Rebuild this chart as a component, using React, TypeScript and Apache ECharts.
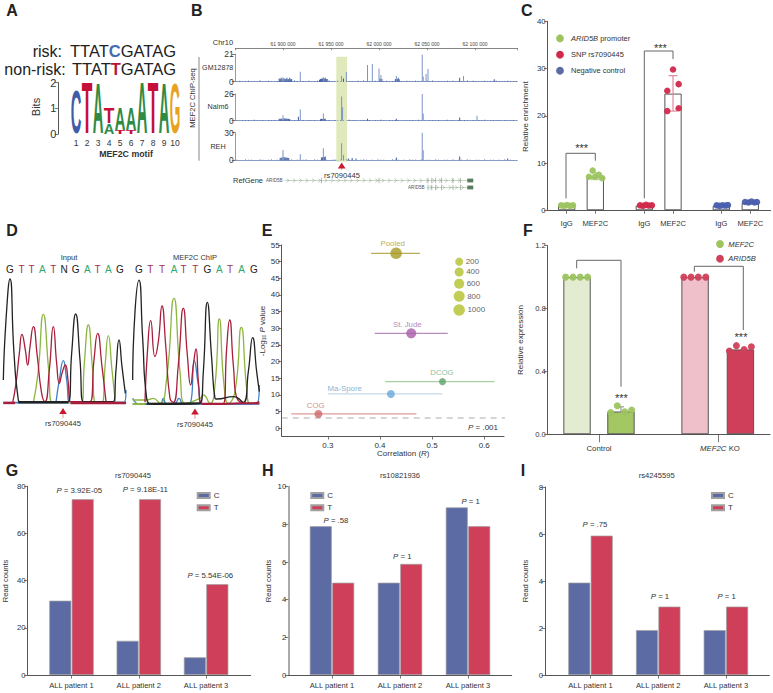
import React, { useEffect, useRef } from "react";
import * as echarts from "echarts";

const FONT = '"Liberation Sans", Arial, sans-serif';
const BLUE = "#5c6ba4";
const RED = "#cf3f5a";
const GREEN = "#9dc45f";
const AXIS = "#555";
const TXT = "#333";

// ---- Panel A
const logoPositions = [1, 2, 3, 4, 5, 6, 7, 8, 9, 10];
const logoRows: [number, string, number, number][] = [
  [1, "C", 0.02, 1.75], [2, "T", 0, 2], [3, "A", 0, 1.95], [4, "A", 0, 0.42], [4, "T", 0.42, 1.03],
  [5, "T", 0, 0.16], [5, "A", 0.16, 1.03], [6, "T", 0, 0.16], [6, "A", 0.16, 1.03],
  [7, "A", 0, 2], [8, "T", 0, 2], [9, "A", 0, 1.95], [10, "G", 0, 1.95],
];
const logoColors: Record<string, string> = { C: "#3f5ca8", T: "#c5103a", A: "#2f8a45", G: "#e8a21e" };
const logoAdvance: Record<string, number> = { C: 0.722, T: 0.611, A: 0.722, G: 0.778 };

// ---- Panel B
const genomeTicks = [61900, 61950, 62000, 62050, 62100];
const peaksGM = [
  [61896, 2.5], [61897, 2], [61898, 3], [61899, 2.2], [61900, 3.4], [61901, 2.4], [61902, 2.2], [61903, 2], [61904, 3], [61905, 1.8], [61906, 2], [61907, 3], [61908, 1.8], [61909, 2], [61918, 7.6],
  [61938, 1.5], [61939, 2], [61940, 2.2], [61941, 2.6], [61942, 3.4], [61943, 2.4], [61944, 3], [61945, 2], [61946, 2], [61961, 4.3], [61963, 2.5], [61966, 7.3],
  [61988, 12.7], [61993, 13.4], [62000, 10], [62001, 2.5], [62002, 5], [62003, 2], [62017, 2], [62018, 4.3], [62019, 2], [62020, 3], [62021, 1.8], [62045, 20.5], [62046, 4],
  [62049, 5.8], [62051, 9.6], [62084, 3], [62088, 4.3], [62120, 1.8],
];
const peaksNalm = [
  [61896, 2], [61897, 1.6], [61898, 2.2], [61899, 1.8], [61900, 5.4], [61901, 2], [61902, 2.4], [61903, 1.8], [61904, 2.2], [61905, 1.6], [61906, 2], [61907, 1.6], [61916, 3.8], [61918, 11],
  [61939, 1.5], [61940, 2], [61941, 1.6], [61942, 7], [61943, 1.8], [61944, 2], [61961, 23.5], [61962, 13], [61988, 2], [62018, 2], [62045, 26], [62046, 7],
  [62084, 3.2], [62102, 4.7],
];
const peaksReh = [
  [61897, 2.4], [61898, 2.8], [61899, 3.2], [61900, 11.2], [61901, 3.4], [61902, 3.2], [61903, 2.8], [61904, 3], [61905, 2.4], [61906, 2.4], [61918, 6.5],
  [61940, 3], [61941, 3.4], [61942, 13], [61943, 3.6], [61944, 4], [61961, 18.4], [61963, 5.8], [61968, 2], [61972, 2.4], [61976, 2],
  [62018, 3], [62045, 30], [62046, 11], [62084, 4], [62134, 2],
];
const noiseGM = [.4,.7,.3,.5,.8,.3,.6,.4,.9,.3,.5,.7,.4,.3,.6,.8,.4,.5,.3,.7,.9,.5,.3,.6,.4,.8,.3,.5,.7,.4,.6,.3,.9,.5,.4,.7,.3,.6,.8,.4,.5,.3,.7,.4,.9,.6,.3,.5,.8,.4,.3,.6,.7,.4,.5,.9,.3,.6,.4,.7,.5,.3,.8,.6,.4,.3,.7,.5,.9,.4,.6,.3,.5,.8,.4,.7,.3,.6,.5,.4,.9,.3,.7,.5,.4,.6,.8,.3,.5,.4,.7,.6,.3,.5,.8,.4,.3,.5];
const noiseNalm = [.5,.3,.8,.4,.6,.3,.9,.5,.4,.7,.3,.6,.5,.8,.3,.4,.7,.5,.9,.3,.6,.4,.5,.8,.3,.7,.4,.6,.3,.9,.5,.4,.8,.3,.6,.5,.7,.4,.3,.9,.5,.6,.3,.4,.8,.5,.7,.3,.6,.4,.9,.5,.3,.7,.4,.6,.8,.3,.5,.4,.7,.6,.3,.9,.4,.5,.3,.8,.6,.4,.7,.3,.5,.9,.4,.6,.3,.7,.5,.8,.4,.3,.6,.5,.7,.4,.9,.3,.5,.6,.4,.8,.3,.7,.5,.4,.6,.3];
const noiseReh = [.6,.4,.3,.9,.5,.7,.3,.4,.8,.6,.3,.5,.9,.4,.7,.3,.6,.5,.4,.8,.3,.7,.5,.6,.9,.4,.3,.8,.5,.4,.7,.6,.3,.5,.9,.4,.6,.3,.8,.5,.7,.4,.3,.6,.9,.5,.4,.7,.3,.8,.5,.6,.4,.3,.9,.7,.5,.4,.6,.3,.8,.5,.7,.4,.9,.3,.6,.5,.4,.8,.7,.3,.5,.6,.4,.9,.3,.7,.5,.4,.8,.6,.3,.5,.7,.4,.9,.3,.6,.5,.4,.7,.3,.8,.5,.6,.4,.3];
const exon1 = [61940, 62000, 62051, 62055, 62059, 62065, 62077, 62085];
const exon2 = [62051, 62055, 62059, 62065, 62077, 62085];

// ---- Panel C
const cTicks = [0.815, 1.185, 1.818, 2.189, 2.813, 3.187];
const cLabels = ["IgG", "MEF2C", "IgG", "MEF2C", "IgG", "MEF2C"];
const cBars = [1, 7, 1, 24.7, 1, 1.6];
const cGreenDots = [[.742,1.05],[.78,.95],[.819,1.1],[.858,.95],[.897,1.05],[1.151,8.4],[1.103,7.1],[1.181,7.1],[1.233,7.5],[1.275,6.8]];
const cRedDots = [[1.762,1.05],[1.801,.95],[1.84,1.15],[1.879,1],[1.917,1.05],[2.189,29.8],[2.262,26.7],[2.115,25.3],[2.262,21.6],[2.115,21]];
const cBlueDots = [[2.752,1.05],[2.79,.95],[2.828,1.05],[2.867,1],[2.899,1.1],[3.119,1.75],[3.164,1.65],[3.203,1.85],[3.242,1.65],[3.274,1.75]];
const cErrGreen = [[1.185, 6.5, 8]];
const cErrRed = [[2.189, 21, 28.5]];

// ---- Panel D
const dBasesInput = ["G","T","T","A","T","N","G","A","T","A","G"];
const dBaseXInput = [30,65,95,127,160,192,227,262,293,325,360];
const dBasesChip = ["G","T","T","A","T","T","G","A","T","A","G"];
const dBaseXChip = [417,451,486,522,551,586,622,658,690,725,762];
const baseColor: Record<string, string> = { G: "#222", T: "#a4304f", A: "#2fa76a", N: "#222" };
const inBlack = [[10,70],[18,250],[30,373],[42,150],[55,10],[62,3],[205,5],[215,150],[227,268],[240,130],[250,5],[340,5],[348,100],[357,190],[366,110],[376,30]];
const inRed = [[38,2],[48,60],[58,150],[66,207],[76,160],[83,115],[90,170],[100,230],[112,140],[125,30],[135,5],[148,100],[160,230],[170,120],[178,60],[186,90],[196,115],[204,70],[212,5],[270,5],[282,130],[293,210],[306,110],[318,5]];
const inGreen = [[100,2],[114,90],[130,267],[146,100],[156,3],[245,3],[253,120],[265,235],[277,110],[287,3],[306,3],[315,110],[325,203],[336,100],[346,3]];
const inBlue = [[168,3],[178,70],[190,128],[200,70],[210,3],[240,3],[372,3],[378,40]];
const inBaseBlack = [[55,3],[205,3]];
const inBaseRed = [[10,1],[45,1],[212,1],[378,1]];
const chBlack = [[398,75],[405,280],[417,375],[428,200],[440,20],[460,2],[600,5],[610,100],[622,308],[635,140],[645,20],[650,18],[700,25],[730,8],[745,100],[758,202],[770,100],[778,40]];
const chRed = [[435,8],[443,170],[452,253],[465,145],[475,190],[486,297],[497,180],[510,20],[520,8],[535,120],[550,290],[562,150],[572,60],[580,120],[588,168],[596,60],[605,5],[670,5],[680,170],[689,255],[700,120],[712,18],[760,5],[778,10]];
const chGreen = [[398,15],[440,15],[460,20],[480,5],[500,80],[522,320],[540,100],[555,5],[600,20],[610,30],[630,5],[645,60],[658,258],[672,60],[685,5],[705,40],[724,233],[740,50],[750,5],[778,5]];
const chBlue = [[398,20],[420,2],[480,2],[490,20],[500,2],[525,5],[537,20],[550,2],[570,5],[583,133],[595,60],[605,2],[770,5],[778,60]];
const chBaseBlack = [[440,4],[600,5]];
const chBaseGreen = [[398,3],[435,3]];
const chBaseRed = [[605,3],[665,3],[720,5],[778,5]];

// ---- Panel E
const studies = ["Pooled", "St. Jude", "DCOG", "Ma-Spore", "COG"];
const studyR = [0.431, 0.46, 0.52, 0.421, 0.282];
const studyLo = [0.383, 0.39, 0.41, 0.30, 0.23];
const studyHi = [0.477, 0.53, 0.62, 0.52, 0.47];
const studyP = [52.5, 28.5, 14, 10.3, 4.3];
const studySize = [11.5, 10, 7, 8, 8];
const studyDot = ["#a89a20", "#a85ea8", "#5aa36a", "#6aa8d8", "#d0666a"];
const studyLine = ["#b8ae55", "#b78bbb", "#a8d0a0", "#c5d9ea", "#e09a9a"];
const studyText = ["#b5b060", "#b98abb", "#8fc0a0", "#8ab4d4", "#d89090"];
const sizeLabels = [200, 400, 600, 800, 1000];
const sizeSymbol = [8, 9, 10, 11, 11.5];
const sizeKeyY = [50, 46.9, 43.4, 39.6, 35.5];

// ---- Panel F
const fTicks = [1, 2];
const fCategories = ["Control", "MEF2C KO"];
const fBarX = [0.815, 1.185, 1.809, 2.191];
const fBarValues = [1, 0.145, 1, 0.54];
const fBarFill = ["#e3ecd0", "#a3c763", "#efc0c9", "#cf3f5a"];
const fGreenDots = [[.719,1],[.781,1],[.842,1],[.904,1],[1.099,.138],[1.154,.182],[1.217,.144],[1.275,.155]];
const fRedDots = [[1.714,1],[1.775,1],[1.836,1],[1.899,1],[2.098,.53],[2.157,.564],[2.222,.54],[2.283,.557]];
const fErr = [[1.185, 0.14, 0.175]];

// ---- Panels G, H, I
const patients = ["ALL patient 1", "ALL patient 2", "ALL patient 3"];
const gC = [31.5, 14.5, 7.5];
const gT = [74.5, 74.5, 38.5];
const hC = [7.9, 4.9, 8.9];
const hT = [4.9, 5.9, 7.9];
const iC = [3.93, 1.91, 1.91];
const iT = [5.93, 2.91, 2.91];

function buildOption() {
  const grids: any[] = [], xAxes: any[] = [], yAxes: any[] = [], series: any[] = [], gfx: any[] = [], legends: any[] = [];

  const addGrid = (l: number, t: number, r: number, b: number, x: any, y: any) => {
    grids.push({ left: l, top: t, width: r - l, height: b - t });
    const i = grids.length - 1;
    xAxes.push({ gridIndex: i, ...x });
    yAxes.push({ gridIndex: i, ...y });
    return i;
  };
  const axisStyle = (color = AXIS, width = 1, fontSize = 7.8, margin = 2) => ({
    axisLine: { show: true, onZero: false, lineStyle: { color, width } },
    axisTick: { show: true, length: 3.5, lineStyle: { color: AXIS, width: 0.8 } },
    axisLabel: { fontSize, color: TXT, fontFamily: FONT, margin },
    splitLine: { show: false },
  });
  const hidden = (min: number, max: number) => ({ type: "value", show: false, min, max, splitLine: { show: false } });

  const text = (x: number, y: number, s: string, o: any = {}) => {
    const fontSize = o.fontSize ?? 8;
    const fill = o.fill ?? TXT;
    const base = { fontSize, fontFamily: FONT, fill };
    gfx.push({
      type: "text", x, y, z: 20, rotation: o.rotation ?? 0,
      style: {
        text: s, ...base, fontWeight: o.fontWeight ?? "normal", fontStyle: o.fontStyle ?? "normal",
        align: o.align ?? "center", verticalAlign: "middle",
        rich: o.rich ? Object.fromEntries(Object.entries(o.rich).map(([k, v]: any) => [k, { ...base, ...v }])) : undefined,
      },
    });
  };
  const italic = { i: { fontStyle: "italic" } };
  const line = (x1: number, y1: number, x2: number, y2: number, stroke = AXIS, lineWidth = 1) =>
    gfx.push({ type: "line", z: 15, shape: { x1, y1, x2, y2 }, style: { stroke, lineWidth } });
  const poly = (points: number[][], stroke = "#666", lineWidth = 1) =>
    gfx.push({ type: "polyline", z: 15, shape: { points }, style: { stroke, lineWidth, fill: "none" } });
  const arrow = (cx: number, top: number, bottom: number) => {
    line(cx, top + 5, cx, bottom, "#e69aa5", 1);
    gfx.push({ type: "polygon", z: 16, shape: { points: [[cx, top], [cx - 3.8, top + 6], [cx + 3.8, top + 6]] }, style: { fill: "#c8192e" } });
  };
  const circle = (cx: number, cy: number, r: number, fill: string) =>
    gfx.push({ type: "circle", z: 16, shape: { cx, cy, r }, style: { fill } });

  // panel letters
  ([["A", 12, 10], ["B", 196.7, 10], ["C", 526.7, 10], ["D", 12, 230], ["E", 267, 230], ["F", 528, 230], ["G", 12, 470], ["H", 267.7, 470], ["I", 523, 470]] as [string, number, number][])
    .forEach(([s, x, y]) => text(x, y, s, { fontSize: 16, fontWeight: "bold", fill: "#222" }));

  // ---------- A
  text(62, 51, "risk:", { fontSize: 16, align: "right", fill: "#222" });
  text(65.7, 69, "non-risk:", { fontSize: 16, align: "right", fill: "#222" });
  text(70, 51, "TTAT{c|C}GATAG", { fontSize: 16.5, align: "left", fill: "#222", rich: { c: { fill: "#3f6db0", fontWeight: "bold" } } });
  text(72, 69, "TTAT{t|T}GATAG", { fontSize: 16.5, align: "left", fill: "#222", rich: { t: { fill: "#b5143a", fontWeight: "bold" } } });
  text(35.5, 107, "Bits", { fontSize: 11, rotation: Math.PI / 2 });
  text(126, 154.3, "MEF2C motif", { fontSize: 8.8, fontWeight: "bold" });
  const gA = addGrid(70.5, 82.7, 180.5, 134,
    { type: "value", min: 0.5, max: 10.5, axisLine: { show: false }, axisTick: { show: false, customValues: logoPositions },
      axisLabel: { customValues: logoPositions, fontSize: 8.5, color: TXT, fontFamily: FONT, margin: 4 }, splitLine: { show: false } },
    { type: "value", min: 0, max: 2, interval: 1, offset: 12.2, ...axisStyle(AXIS, 1, 11, 2) });
  series.push({
    type: "custom", name: "logo", xAxisIndex: gA, yAxisIndex: gA, clip: false,
    data: logoRows.map((r) => [r[0], r[2], r[3]]), encode: { x: 0, y: [1, 2] },
    renderItem: (p: any, api: any) => {
      const r = logoRows[p.dataIndex];
      const a = api.coord([r[0], r[2]]), b = api.coord([r[0], r[3]]);
      const fs = 20;
      return {
        type: "text", x: a[0], y: (a[1] + b[1]) / 2,
        scaleX: 10.6 / (logoAdvance[r[1]] * fs), scaleY: Math.abs(a[1] - b[1]) / (0.716 * fs),
        style: { text: r[1], fill: logoColors[r[1]], fontSize: fs, fontWeight: "bold", fontFamily: FONT, align: "center", verticalAlign: "middle" },
      };
    },
  });

  // ---------- B
  const gMin = 61850.3, gMax = 62144;
  const gOver = addGrid(235.3, 56.7, 517.3, 161.7,
    { type: "value", position: "top", offset: 8.4, min: gMin, max: gMax,
      axisLine: { show: true, onZero: false, lineStyle: { color: "#666", width: 0.8 } },
      axisTick: { show: true, inside: true, length: 2, customValues: [gMin, ...genomeTicks, gMax], lineStyle: { color: "#666", width: 0.7 } },
      axisLabel: { customValues: genomeTicks, fontSize: 5, color: "#444", fontFamily: FONT, margin: 2,
        formatter: (v: number) => `${String(v).slice(0, 2)} ${String(v).slice(2)} 000` },
      splitLine: { show: false } },
    hidden(0, 1));
  series.push({
    type: "line", name: "highlight", xAxisIndex: gOver, yAxisIndex: gOver, data: [], z: 1, silent: true,
    markArea: { silent: true, itemStyle: { color: "#dfe9bb" }, data: [[{ xAxis: 61955.5 }, { xAxis: 61966.7 }]] },
  });
  const track = (top: number, bottom: number, max: number, peaks: number[][], noise: number[]) => {
    const g = addGrid(235.3, top, 517.3, bottom,
      { type: "value", min: gMin, max: gMax, axisLine: { show: true, onZero: false, lineStyle: { color: "#8fa3cc", width: 1 } },
        axisTick: { show: false }, axisLabel: { show: false }, splitLine: { show: false } },
      { type: "value", min: 0, max, interval: max, ...axisStyle("#999", 1, 8.5, 1.5) });
    const lowLimit = max * 0.16;
    series.push({
      type: "bar", xAxisIndex: g, yAxisIndex: g, barWidth: 0.9, z: 3,
      data: [...noise.map((v, i) => [61852 + i * 3, v]), ...peaks].map((d) => ({
        value: d, itemStyle: { color: d[1] <= lowLimit ? "#3f5c9e" : "#7c94c6" },
      })),
    });
  };
  track(54, 81.7, 21, peaksGM, noiseGM);
  track(94, 120.7, 26, peaksNalm, noiseNalm);
  track(132.7, 160.3, 30, peaksReh, noiseReh);
  text(217.7, 68, "GM12878", { fontSize: 7.1 });
  text(218, 106, "Nalm6", { fontSize: 7.2 });
  text(218, 146, "REH", { fontSize: 7.2 });
  text(192, 98, "MEF2C ChIP-seq", { fontSize: 7.6, rotation: Math.PI / 2 });
  line(199, 57, 199, 160.7, "#888", 1);
  text(223, 42.5, "Chr10", { fontSize: 7.5 });
  arrow(341.7, 162.5, 170);
  text(342, 175, "rs7090445", { fontSize: 7.6 });
  text(248, 180.5, "RefGene", { fontSize: 7.5 });
  text(266, 180.8, "ARID5B", { fontSize: 4.6, align: "left", fill: "#555" });
  text(408, 187.8, "ARID5B", { fontSize: 4.6, align: "left", fill: "#555" });
  const gGene = addGrid(235.3, 180.5, 517.3, 187.5, hidden(gMin, gMax), hidden(0, 1));
  const geneLine = { type: "line", xAxisIndex: gGene, yAxisIndex: gGene, showSymbol: false, symbol: "none", lineStyle: { color: "#8aa080", width: 0.6 } };
  series.push({ ...geneLine, data: [[61902, 1], [62092, 1]] }, { ...geneLine, data: [[62050, 0], [62092, 0]] });
  const chev = (from: number, to: number, y: number) => {
    const d: number[][] = [];
    for (let x = from; x < to; x += 6.6) d.push([x, y]);
    return d;
  };
  series.push({
    type: "scatter", xAxisIndex: gGene, yAxisIndex: gGene, symbol: "path://M0,0 L5,5 L0,10", symbolSize: [2.5, 4],
    itemStyle: { color: "transparent", borderColor: "#6f8f6a", borderWidth: 0.5 },
    data: [...chev(61905, 62088, 1), ...chev(62054, 62088, 0)],
  });
  series.push({
    type: "scatter", xAxisIndex: gGene, yAxisIndex: gGene, symbol: "rect", symbolSize: [0.7, 5.5], itemStyle: { color: "#6f8f6a" },
    data: [...exon1.map((x) => [x, 1]), ...exon2.map((x) => [x, 0])],
  });
  series.push({
    type: "scatter", xAxisIndex: gGene, yAxisIndex: gGene, symbol: "rect", symbolSize: [6, 3.8], itemStyle: { color: "#2f5a2f" },
    data: [[62095, 1], [62095, 0]],
  });

  // ---------- C
  const gC_ = addGrid(547.7, 21.3, 770.7, 210.3,
    { type: "value", min: 0.57, max: 3.451, ...axisStyle(),
      axisTick: { show: true, length: 3.5, customValues: cTicks, lineStyle: { color: AXIS, width: 0.8 } },
      axisLabel: { customValues: cTicks, fontSize: 7.6, color: TXT, fontFamily: FONT, margin: 9,
        formatter: (v: number) => cLabels[cTicks.findIndex((c) => Math.abs(c - v) < 0.01)] ?? "" } },
    { type: "value", min: 0, max: 40, interval: 10, ...axisStyle() });
  series.push({
    type: "bar", xAxisIndex: gC_, yAxisIndex: gC_, barWidth: 17.3, z: 2,
    itemStyle: { color: "transparent", borderColor: "#555", borderWidth: 1 },
    data: cTicks.map((x, i) => [x, cBars[i]]),
  });
  const errors = (g: number, data: number[][], color: string, cap = 4.5) => ({
    type: "custom", xAxisIndex: g, yAxisIndex: g, clip: false, z: 3, data, encode: { x: 0, y: [1, 2] },
    renderItem: (_: any, api: any) => {
      const a = api.coord([api.value(0), api.value(1)]), b = api.coord([api.value(0), api.value(2)]);
      const st = { stroke: color, lineWidth: 1.2 };
      return {
        type: "group",
        children: [
          { type: "line", shape: { x1: a[0], y1: a[1], x2: b[0], y2: b[1] }, style: st },
          { type: "line", shape: { x1: a[0] - cap, y1: a[1], x2: a[0] + cap, y2: a[1] }, style: st },
          { type: "line", shape: { x1: b[0] - cap, y1: b[1], x2: b[0] + cap, y2: b[1] }, style: st },
        ],
      };
    },
  });
  series.push(errors(gC_, cErrGreen, "#b7d68a"), errors(gC_, cErrRed, "#e08a9c"));
  const dots = (g: number, data: number[][], color: string, size: number) => ({
    type: "scatter", xAxisIndex: g, yAxisIndex: g, symbolSize: size, z: 4, itemStyle: { color, opacity: 0.95 }, data, clip: false,
  });
  series.push(dots(gC_, cGreenDots, GREEN, 6.5), dots(gC_, cRedDots, "#d0294b", 6.5), dots(gC_, cBlueDots, "#4a5fad", 6.5));
  poly([[566, 198.3], [566, 153.3], [595.3, 153.3], [595.3, 160.7]]);
  poly([[644.3, 198.3], [644.3, 51], [673, 51], [673, 59]]);
  text(581.7, 148, "***", { fontSize: 11 });
  text(660.3, 48, "***", { fontSize: 11 });
  text(525.7, 116.7, "Relative enrichment", { fontSize: 8, rotation: Math.PI / 2 });
  circle(560, 38.3, 3.9, GREEN); circle(560, 54.7, 3.9, "#d0294b"); circle(560, 70.7, 3.9, "#5c6ba4");
  text(571, 38.3, "{i|ARID5B} promoter", { fontSize: 7.5, align: "left", rich: italic });
  text(571, 54.7, "SNP rs7090445", { fontSize: 7.5, align: "left" });
  text(571, 70.7, "Negative control", { fontSize: 7.5, align: "left" });

  // ---------- D
  const trace = (g: number, data: number[][], color: string, width = 1.3, smooth: number | boolean = 0.55) => ({
    type: "line", xAxisIndex: g, yAxisIndex: g, data, symbol: "none", showSymbol: false, smooth, clip: false,
    lineStyle: { color, width },
  });
  const gD1 = addGrid(0, 270, 130, 403.3, hidden(0, 390), hidden(0, 400));
  const gD2 = addGrid(130, 271.7, 260, 405, hidden(390, 780), hidden(0, 400));
  const c = { k: "#222", r: "#a81e3c", g: "#8db640", b: "#3e7fc4" };
  series.push(
    trace(gD1, [[10, 2], [378, 2]], c.b, 1.6, false), trace(gD1, inBlue, c.b), trace(gD1, inGreen, c.g), trace(gD1, inRed, c.r),
    trace(gD1, inBlack, c.k), trace(gD1, inBaseBlack, c.k, 2.4, false), trace(gD1, inBaseRed.slice(0, 2), c.r, 2.4, false), trace(gD1, inBaseRed.slice(2), c.r, 2.4, false),
    trace(gD2, [[398, 3], [778, 3]], c.b, 1.6, false), trace(gD2, chBlue, c.b), trace(gD2, chGreen, c.g), trace(gD2, chRed, c.r),
    trace(gD2, chBlack, c.k), trace(gD2, chBaseBlack, c.k, 2, false), trace(gD2, chBaseGreen, c.g, 2, false), trace(gD2, chBaseRed, c.r, 2, false),
  );
  dBasesInput.forEach((b, i) => text(dBaseXInput[i] / 3, 269, b, { fontSize: 10, fill: baseColor[b] }));
  dBasesChip.forEach((b, i) => text(dBaseXChip[i] / 3, 269, b, { fontSize: 10, fill: baseColor[b] }));
  text(69, 257, "Input", { fontSize: 7.5 });
  text(195, 257, "MEF2C ChIP", { fontSize: 7.5 });
  arrow(63, 408, 418); arrow(195, 408.5, 419);
  text(63, 423, "rs7090445", { fontSize: 7.6 });
  text(195, 424.5, "rs7090445", { fontSize: 7.6 });

  // ---------- E
  const eYTicks = [0, 5, 10, 15, 20, 25, 30, 35, 40, 45, 50, 55];
  const eXTicks = [0.3, 0.4, 0.5, 0.6];
  const gE = addGrid(281.7, 245, 504, 436,
    { type: "value", min: 0.2115, max: 0.638, ...axisStyle(AXIS, 1, 8, 4),
      axisTick: { show: true, length: 3.5, customValues: eXTicks, lineStyle: { color: AXIS, width: 0.8 } },
      axisLabel: { customValues: eXTicks, fontSize: 8, color: TXT, fontFamily: FONT, margin: 5, formatter: (v: number) => v.toFixed(1) } },
    { type: "value", min: -2.31, max: 55, ...axisStyle(AXIS, 1, 8, 2),
      axisTick: { show: true, length: 3.5, customValues: eYTicks, lineStyle: { color: AXIS, width: 0.8 } },
      axisLabel: { customValues: eYTicks, fontSize: 8, color: TXT, fontFamily: FONT, margin: 2 } });
  studies.forEach((_, i) => {
    series.push({
      type: "line", xAxisIndex: gE, yAxisIndex: gE, symbol: "none", z: 2,
      lineStyle: { color: studyLine[i], width: 1.2 }, data: [[studyLo[i], studyP[i]], [studyHi[i], studyP[i]]],
    });
  });
  series.push({
    type: "line", xAxisIndex: gE, yAxisIndex: gE, symbol: "none", clip: false, z: 2,
    lineStyle: { color: "#888", width: 0.7, type: [6, 5] }, data: [[0.2115, 3.09], [0.643, 3.09]],
  });
  series.push({
    type: "scatter", xAxisIndex: gE, yAxisIndex: gE, z: 4,
    data: studies.map((s, i) => ({ name: s, value: [studyR[i], studyP[i]], symbolSize: studySize[i], itemStyle: { color: studyDot[i] } })),
  });
  series.push({
    type: "scatter", xAxisIndex: gE, yAxisIndex: gE, z: 4,
    data: sizeLabels.map((s, i) => ({
      name: String(s), value: [0.552, sizeKeyY[i]], symbolSize: sizeSymbol[i], itemStyle: { color: "#b2c02a" },
      label: { show: true, position: "right", distance: 2.5, formatter: String(s), fontSize: 8, color: TXT, fontFamily: FONT },
    })),
  });
  ([[392.7, 243.3], [407.3, 324], [442, 372.7], [344.7, 388.3], [315.7, 405.7]] as number[][])
    .forEach(([x, y], i) => text(x, y, studies[i], { fontSize: 7.8, fill: studyText[i] }));
  text(483, 427.3, "{i|P} = .001", { fontSize: 8, rich: italic });
  text(403.3, 453.5, "Correlation ({i|R})", { fontSize: 8, rich: italic });
  text(262.3, 331, "-Log{s|10} {i|P} value", { fontSize: 8, rotation: Math.PI / 2, rich: { ...italic, s: { fontSize: 5, verticalAlign: "bottom" } } });

  // ---------- F
  const gF = addGrid(547.7, 245.7, 770, 434.3,
    { type: "value", min: 0.568, max: 2.44, ...axisStyle(),
      axisTick: { show: true, length: 8, customValues: fTicks, lineStyle: { color: AXIS, width: 0.8 } },
      axisLabel: { customValues: fTicks, show: false } },
    { type: "value", min: 0, max: 1.2, interval: 0.4, ...axisStyle(),
      axisLabel: { fontSize: 7.6, color: TXT, fontFamily: FONT, margin: 2, formatter: (v: number) => v.toFixed(1) } });
  series.push({
    type: "bar", xAxisIndex: gF, yAxisIndex: gF, barWidth: 27.4, z: 2,
    data: fBarX.map((x, i) => ({ value: [x, fBarValues[i]], itemStyle: { color: fBarFill[i], borderColor: "#555", borderWidth: 1 } })),
  });
  series.push(errors(gF, fErr, "#999", 3));
  series.push(dots(gF, fGreenDots, GREEN, 7), dots(gF, fRedDots, "#d0405a", 7));
  text(599, 448, fCategories[0], { fontSize: 7.8 });
  text(720, 448, "{i|MEF2C} KO", { fontSize: 7.8, rich: italic });
  text(520, 340, "Relative expression", { fontSize: 8, rotation: Math.PI / 2 });
  poly([[576.7, 268.3], [576.7, 260.3], [621, 260.3], [621, 386.7]]);
  poly([[694.3, 271.7], [694.3, 266.3], [743.3, 266.3], [743.3, 330]]);
  text(621.3, 397.5, "***", { fontSize: 11 });
  text(741, 336.5, "***", { fontSize: 11 });
  circle(720, 244, 3.9, GREEN); circle(720, 258.7, 3.9, "#d0405a");
  text(728.3, 244, "MEF2C", { fontSize: 7.6, fontStyle: "italic", align: "left" });
  text(728.3, 258.7, "ARID5B", { fontSize: 7.6, fontStyle: "italic", align: "left" });

  // ---------- G H I
  const panel = (o: any) => {
    const g = addGrid(o.axisX, o.top, o.right, 675,
      { type: "value", min: 1 - (o.center - o.axisX) / o.step, max: 3 + (o.right - o.center - 2 * o.step) / o.step, ...axisStyle(AXIS, 1, 7.6, 5),
        axisTick: { show: true, length: 3.5, customValues: [1, 2, 3], lineStyle: { color: AXIS, width: 0.8 } },
        axisLabel: { customValues: [1, 2, 3], fontSize: 7.6, color: TXT, fontFamily: FONT, margin: 6.5, formatter: (v: number) => patients[v - 1] } },
      { type: "value", min: 0, max: o.max, interval: o.interval, ...axisStyle(o.yColor ?? AXIS, o.yWidth ?? 1) });
    const bar = (name: string, vals: number[], color: string) => ({
      type: "bar", name, xAxisIndex: g, yAxisIndex: g, barWidth: 22, barGap: "2%", z: 2,
      itemStyle: { color, borderColor: "#a0a0a0", borderWidth: 0.7 }, data: vals.map((v, i) => [i + 1, v]),
    });
    series.push(bar("C", o.c, BLUE), bar("T", o.t, RED));
    legends.push({
      left: o.legendX, top: 491.5, orient: "vertical", icon: "rect", itemWidth: 12, itemHeight: 5, itemGap: 4.2, selectedMode: false, data: ["C", "T"],
      textStyle: { fontSize: 8, color: TXT, fontFamily: FONT, padding: [0, 0, 0, -1] }, padding: 0,
    });
    text(o.titleX, 475, o.title, { fontSize: 7.6 });
    text(o.nameX, 581, "Read counts", { fontSize: 7.6, rotation: Math.PI / 2 });
    o.p.forEach((p: any[]) => text(p[0], p[1], `{i|P} = ${p[2]}`, { fontSize: 7.8, rich: italic }));
  };
  panel({ axisX: 27.7, right: 250.7, top: 486.3, center: 71.5, step: 67.3, max: 80, interval: 20, c: gC, t: gT, legendX: 196.7, title: "rs7090445", titleX: 133, nameX: 5.5,
    p: [[79.3, 490, "3.92E-05"], [145.3, 489.3, "9.18E-11"], [210.3, 575, "5.54E-06"]] });
  panel({ axisX: 288.3, right: 511.7, top: 486.7, center: 332, step: 68, max: 10, interval: 2, c: hC, t: hT, legendX: 310.3, title: "rs10821936", titleX: 400, nameX: 268, yColor: "#aaa", yWidth: 2,
    p: [[336, 520.7, ".58"], [402.3, 556.3, "1"], [470.7, 501.7, "1"]] });
  panel({ axisX: 545, right: 769.3, top: 487, center: 590.5, step: 67.7, max: 8, interval: 2, c: iC, t: iT, legendX: 711, title: "rs4245595", titleX: 656.7, nameX: 525,
    p: [[595, 524, ".75"], [660, 596, "1"], [726.7, 596, "1"]] });

  return {
    animation: false, backgroundColor: "#fff",
    grid: grids, xAxis: xAxes, yAxis: yAxes, series, legend: legends,
    graphic: { elements: gfx },
  };
}

export default function App() {
  const ref = useRef<HTMLDivElement>(null);
  useEffect(() => {
    const chart = echarts.init(ref.current!, null, { renderer: "svg" });
    chart.setOption(buildOption() as any);
    return () => chart.dispose();
  }, []);
  return <div ref={ref} style={{ position: "absolute", left: 0, top: 0, width: 773, height: 693 }} />;
}
